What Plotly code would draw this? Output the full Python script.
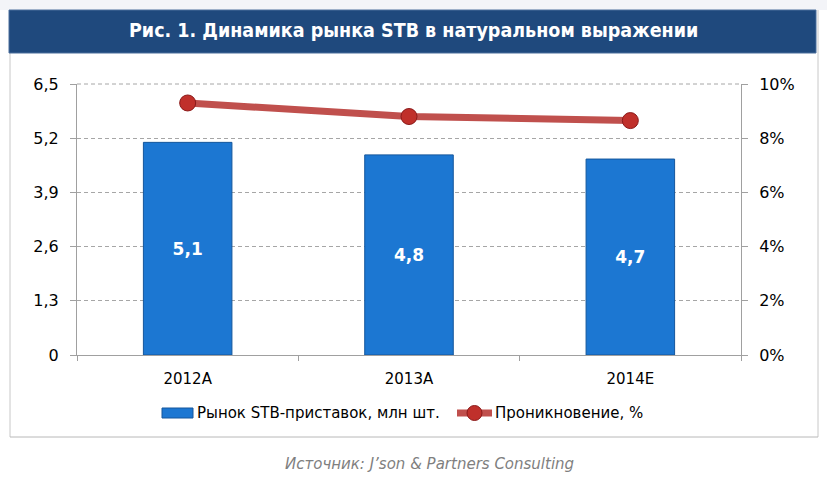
import plotly.graph_objects as go

categories = ["2012A", "2013A", "2014E"]
market = [5.1, 4.8, 4.7]
penetration = [9.3, 8.8, 8.65]
market_labels = ["5,1", "4,8", "4,7"]
left_ticks = [0, 1.3, 2.6, 3.9, 5.2, 6.5]
left_ticktext = ["0", "1,3", "2,6", "3,9", "5,2", "6,5"]
right_ticks = [0, 2, 4, 6, 8, 10]
right_ticktext = ["0%", "2%", "4%", "6%", "8%", "10%"]
bar_name = "Рынок STB-приставок, млн шт."
line_name = "Проникновение, %"

W, H = 827, 492
L, R, T, B = 77, 741, 84, 355

def px(x):
    return (x - L) / (R - L)

def py(y):
    return (B - y) / (B - T)

font = "DejaVu Sans, sans-serif"
cfont = "DejaVu Sans Condensed, DejaVu Sans, sans-serif"
BAR_C = "#1C77D2"
LINE_C = "#C0504D"
MK_C = "#C0302B"

fig = go.Figure()
fig.add_trace(go.Bar(
    x=categories, y=market, name=bar_name,
    width=0.4, marker=dict(color=BAR_C, line=dict(color="#15579c", width=1)),
    text=market_labels, textposition="inside", insidetextanchor="middle",
    textfont=dict(color="white", size=17, family=font),
    texttemplate="<b>%{text}</b>", hoverinfo="skip", showlegend=False))
fig.add_trace(go.Scatter(
    x=categories, y=penetration, name=line_name, yaxis="y2",
    mode="lines+markers", line=dict(color=LINE_C, width=7),
    marker=dict(color=MK_C, size=16, line=dict(color="#8B1A1A", width=1)), showlegend=False))

shapes = [
    dict(type="rect", xref="paper", yref="paper", x0=px(0), x1=px(W), y0=py(0), y1=py(10),
         fillcolor="#F3F4F8", line=dict(width=0), layer="below"),
    dict(type="line", xref="paper", yref="paper", x0=px(10), x1=px(10), y0=py(10), y1=py(437),
         line=dict(color="#C8C8C8", width=1)),
    dict(type="line", xref="paper", yref="paper", x0=px(818), x1=px(818), y0=py(10), y1=py(437),
         line=dict(color="#C8C8C8", width=1)),
    dict(type="line", xref="paper", yref="paper", x0=px(10), x1=px(818), y0=py(437), y1=py(437),
         line=dict(color="#B8B8B8", width=1)),
    dict(type="rect", xref="paper", yref="paper", x0=px(9), x1=px(816), y0=py(10), y1=py(53),
         fillcolor="#1F497D", line=dict(color="#4a6f9c", width=1)),
    dict(type="line", xref="paper", yref="paper", x0=0, x1=1, y0=1, y1=1,
         line=dict(color="#A6A6A6", width=1, dash="4px,3px")),
    # legend symbols
    dict(type="rect", xref="paper", yref="paper", x0=px(162), x1=px(193), y0=py(408), y1=py(418),
         fillcolor=BAR_C, line=dict(color="#15579c", width=1)),
    dict(type="line", xref="paper", yref="paper", x0=px(457), x1=px(492), y0=py(413), y1=py(413),
         line=dict(color=LINE_C, width=7)),
    dict(type="circle", xref="paper", yref="paper", x0=px(467), x1=px(482), y0=py(405.5), y1=py(420.5),
         fillcolor=MK_C, line=dict(color="#8B1A1A", width=1)),
]

annotations = [
    dict(text="<b>Рис. 1. Динамика рынка STB в натуральном выражении</b>", xref="paper", yref="paper",
         x=px(413), y=py(31), showarrow=False, xanchor="center", yanchor="middle",
         font=dict(color="white", size=19.5, family=cfont)),
    dict(text="<i>Источник: J’son &amp; Partners Consulting</i>", xref="paper", yref="paper",
         x=px(429), y=py(464), showarrow=False, xanchor="center", yanchor="middle",
         font=dict(color="#7F7F7F", size=15, family=font)),
    dict(text=bar_name, xref="paper", yref="paper", x=px(195), y=py(413), showarrow=False,
         xanchor="left", yanchor="middle", font=dict(size=15, family=font, color="black")),
    dict(text=line_name, xref="paper", yref="paper", x=px(493), y=py(413), showarrow=False,
         xanchor="left", yanchor="middle", font=dict(size=15, family=font, color="black")),
]

fig.update_layout(
    width=W, height=H,
    margin=dict(l=L, r=W - R, t=T, b=H - B, pad=0),
    paper_bgcolor="white", plot_bgcolor="white",
    font=dict(family=font, size=15, color="black"),
    showlegend=False,
    bargap=0.6,
    xaxis=dict(type="category", range=[-0.5, 2.5], showline=True, linecolor="#A0A0A0", linewidth=1,
               ticks="outside", tickson="boundaries", ticklen=5, tickcolor="#A0A0A0",
               showgrid=False, tickfont=dict(size=15), ticklabelstandoff=10),
    yaxis=dict(range=[0, 6.5], tickvals=left_ticks, ticktext=left_ticktext, showline=True,
               linecolor="#A0A0A0", linewidth=1, ticks="outside", ticklen=6, tickcolor="#A0A0A0",
               showgrid=True, gridcolor="#A6A6A6", griddash="4px,3px", gridwidth=1,
               zeroline=False, tickfont=dict(size=16), ticklabelstandoff=8),
    yaxis2=dict(range=[0, 10], tickvals=right_ticks, ticktext=right_ticktext, overlaying="y",
                side="right", showline=True, linecolor="#A0A0A0", linewidth=1, ticks="outside",
                ticklen=6, tickcolor="#A0A0A0", showgrid=False, zeroline=False,
                tickfont=dict(size=16), ticklabelstandoff=8),
    shapes=shapes, annotations=annotations,
)

fig.write_html("out.html", config={"displayModeBar": False},
               post_script="document.body.style.margin='0';document.body.style.padding='0';")
